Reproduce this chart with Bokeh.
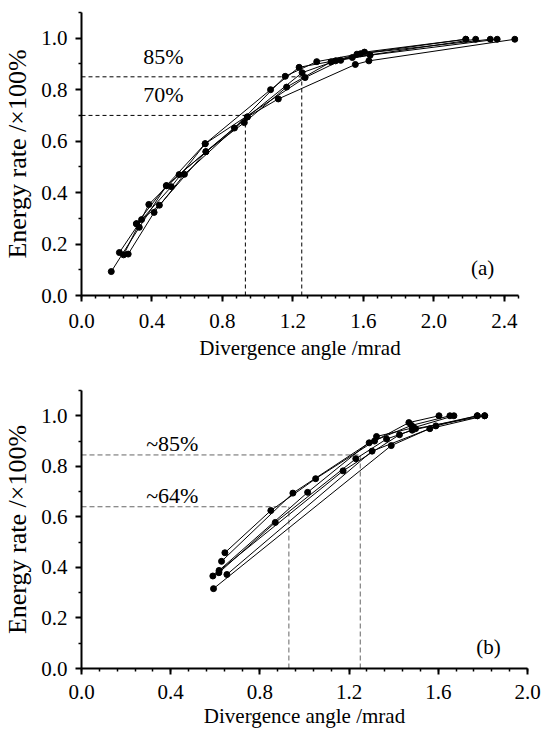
from bokeh.plotting import figure
from bokeh.models import Range1d, FixedTicker, NumeralTickFormatter, Label
from bokeh.layouts import column
from bokeh.embed import file_html
from bokeh.resources import INLINE

FONT = "'Liberation Serif', 'Times New Roman', serif"

# ---- panel (a) data ----
a_x = [
    [0.169, 0.328, 0.482, 0.706, 0.924, 1.164, 1.416, 1.606, 2.181],
    [0.215, 0.341, 0.510, 0.702, 1.073, 1.235, 1.537, 2.237],
    [0.239, 0.382, 0.554, 0.868, 1.156, 1.335, 1.584, 2.320],
    [0.265, 0.412, 0.584, 0.941, 1.252, 1.442, 1.638, 2.359],
    [0.312, 0.442, 0.706, 0.941, 1.117, 1.554, 1.631, 2.459],
    [0.312, 0.482, 0.702, 1.269, 1.471, 1.563, 2.181],
]
a_y = [
    [0.093, 0.265, 0.427, 0.559, 0.672, 0.810, 0.908, 0.946, 0.996],
    [0.167, 0.295, 0.423, 0.590, 0.800, 0.887, 0.925, 0.996],
    [0.158, 0.354, 0.470, 0.651, 0.852, 0.909, 0.940, 0.996],
    [0.161, 0.323, 0.471, 0.694, 0.866, 0.912, 0.934, 0.996],
    [0.279, 0.351, 0.559, 0.694, 0.764, 0.898, 0.912, 0.996],
    [0.279, 0.427, 0.590, 0.847, 0.914, 0.938, 0.996],
]
a_levels = [0.85, 0.70]
a_angles = [1.25, 0.93]
a_labels = ["85%", "70%"]
a_xticks = [0.0, 0.4, 0.8, 1.2, 1.6, 2.0, 2.4]

# ---- panel (b) data ----
b_x = [
    [0.643, 0.849, 1.050, 1.314, 1.468, 1.603],
    [0.628, 0.948, 1.290, 1.480, 1.652],
    [0.617, 1.014, 1.323, 1.490, 1.670],
    [0.616, 0.869, 1.230, 1.368, 1.483, 1.775],
    [0.589, 1.173, 1.426, 1.498, 1.808],
    [0.652, 1.303, 1.562, 1.808],
    [0.592, 1.389, 1.589, 1.775],
]
b_y = [
    [0.458, 0.625, 0.751, 0.900, 0.973, 1.000],
    [0.424, 0.694, 0.893, 0.962, 1.000],
    [0.388, 0.697, 0.918, 0.953, 1.000],
    [0.379, 0.578, 0.830, 0.908, 0.943, 1.000],
    [0.366, 0.782, 0.925, 0.949, 1.000],
    [0.372, 0.860, 0.949, 1.000],
    [0.316, 0.882, 0.960, 1.000],
]
b_levels = [0.845, 0.64]
b_angles = [1.25, 0.93]
b_labels = ["~85%", "~64%"]
b_xticks = [0.0, 0.4, 0.8, 1.2, 1.6, 2.0]

yticks = [0.0, 0.2, 0.4, 0.6, 0.8, 1.0]
y_minor = [0.1, 0.3, 0.5, 0.7, 0.9, 1.1]


def make_fig(width, height, xmax, xticks, top, bottom, left, right):
    p = figure(width=width, height=height, output_backend="svg",
               toolbar_location=None, x_range=Range1d(0, xmax),
               y_range=Range1d(0, 1.1),
               min_border_top=top, min_border_bottom=bottom,
               min_border_left=left, min_border_right=right)
    p.outline_line_color = None
    p.grid.visible = False
    p.background_fill_color = "white"
    minor_x = [round(i * 0.08, 2) for i in range(int(round(xmax / 0.08)) + 1)]
    p.xaxis.ticker = FixedTicker(ticks=xticks, minor_ticks=minor_x)
    p.yaxis.ticker = FixedTicker(ticks=yticks, minor_ticks=y_minor)
    for ax in (p.xaxis, p.yaxis):
        ax.formatter = NumeralTickFormatter(format="0.0")
        ax.axis_line_width = 2
        ax.axis_line_color = "black"
        ax.major_tick_line_width = 2
        ax.major_tick_line_color = "black"
        ax.minor_tick_line_width = 1.5
        ax.minor_tick_line_color = "black"
        ax.major_tick_out = 6
        ax.major_tick_in = 0
        ax.minor_tick_out = 3
        ax.minor_tick_in = 0
        ax.major_label_text_font = FONT
        ax.major_label_text_font_size = "21px"
        ax.major_label_text_color = "black"
        ax.axis_label_text_font = FONT
        ax.axis_label_text_font_style = "normal"
        ax.axis_label_text_color = "black"
    p.xaxis.axis_label = "Divergence angle /mrad"
    p.xaxis.axis_label_text_font_size = "21px"
    p.yaxis.axis_label = "Energy rate /\u00d7100%"
    p.yaxis.axis_label_text_font_size = "26px"
    p.yaxis.major_label_standoff = 8
    p.yaxis.axis_label_standoff = 6
    return p


def add_panel(p, xs, ys, levels, angles, labels, tag, tag_xy, lab_x, lab_dy,
              dash_color, dash):
    for lv, an in zip(levels, angles):
        p.line([0, an], [lv, lv], line_color=dash_color, line_dash=dash, line_width=1)
        p.line([an, an], [0, lv], line_color=dash_color, line_dash=dash, line_width=1)
    for xx, yy in zip(xs, ys):
        p.line(xx, yy, line_color="black", line_width=1)
        p.scatter(xx, yy, size=6, color="black")
    for lv, lab in zip(levels, labels):
        p.add_layout(Label(x=lab_x, y=lv + lab_dy, text=lab, text_font=FONT,
                           text_font_size="22px", text_color="black",
                           text_baseline="middle"))
    p.add_layout(Label(x=tag_xy[0], y=tag_xy[1], text=tag, text_font=FONT,
                       text_font_size="21px", text_color="black",
                       text_baseline="middle"))


p1 = make_fig(532, 365, 2.48, a_xticks, top=12, bottom=70, left=79, right=12)
p1.xaxis.major_label_standoff = 12
p1.xaxis.axis_label_standoff = 5
add_panel(p1, a_x, a_y, a_levels, a_angles, a_labels, "(a)", (2.21, 0.105),
          0.35, 0.08, "black", "4 3")

p2 = make_fig(541, 365, 2.0, b_xticks, top=25, bottom=58, left=81, right=14)
p2.xaxis.major_label_standoff = 10
p2.xaxis.axis_label_standoff = 2
add_panel(p2, b_x, b_y, b_levels, b_angles, b_labels, "(b)", (1.77, 0.087),
          0.29, 0.045, "#666666", "5 3")

layout = column(p1, p2)
open("out.html", "w").write(file_html(layout, INLINE))
